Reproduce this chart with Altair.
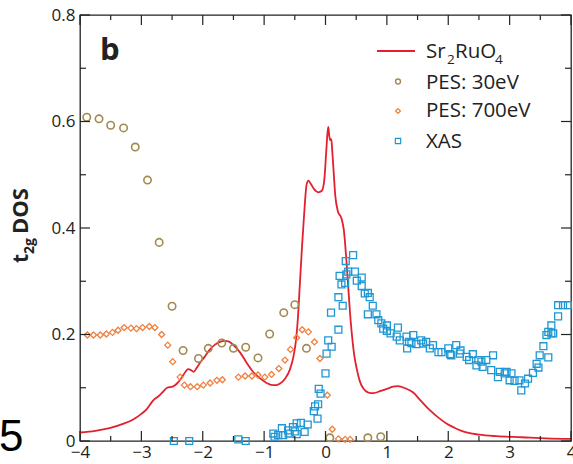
import altair as alt
import pandas as pd

# ---------------- data ----------------
dos_x = [-4.00, -3.75, -3.52, -3.30, -3.14, -3.00, -2.92, -2.81, -2.72, -2.65, -2.58, -2.49,
         -2.42, -2.35, -2.28, -2.24, -2.19, -2.15, -2.10, -2.05, -1.97, -1.89, -1.80, -1.72,
         -1.65, -1.58, -1.50, -1.39, -1.28, -1.18, -1.07, -0.96, -0.86, -0.80, -0.74, -0.66,
         -0.58, -0.52, -0.48, -0.45, -0.42, -0.38, -0.34, -0.31, -0.28, -0.24, -0.18, -0.12,
         -0.06, -0.02, 0.01, 0.03, 0.045, 0.06, 0.075, 0.095, 0.11, 0.13, 0.16, 0.20, 0.26,
         0.30, 0.34, 0.37, 0.40, 0.43, 0.47, 0.51, 0.56, 0.62, 0.70, 0.78, 0.90, 1.00, 1.10,
         1.18, 1.30, 1.43, 1.55, 1.70, 1.85, 1.97, 2.10, 2.24, 2.50, 2.79, 3.20, 3.60, 4.00]
dos_y = [0.016, 0.019, 0.024, 0.032, 0.040, 0.051, 0.059, 0.076, 0.084, 0.092, 0.100, 0.102,
         0.108, 0.118, 0.130, 0.135, 0.133, 0.130, 0.137, 0.146, 0.158, 0.171, 0.181, 0.186,
         0.188, 0.187, 0.180, 0.166, 0.146, 0.130, 0.118, 0.109, 0.105, 0.105, 0.108, 0.117,
         0.134, 0.160, 0.190, 0.230, 0.290, 0.370, 0.440, 0.480, 0.489, 0.483, 0.472, 0.467,
         0.470, 0.490, 0.540, 0.575, 0.590, 0.575, 0.565, 0.567, 0.545, 0.510, 0.460, 0.432,
         0.418, 0.395, 0.340, 0.290, 0.240, 0.200, 0.160, 0.135, 0.112, 0.098, 0.091, 0.090,
         0.094, 0.098, 0.102, 0.103, 0.099, 0.091, 0.076, 0.058, 0.043, 0.033, 0.025, 0.018,
         0.012, 0.009, 0.007, 0.005, 0.004]

pes30_x = [-3.89, -3.69, -3.50, -3.29, -3.10, -2.90, -2.71, -2.50, -2.32, -2.07, -1.91, -1.69,
           -1.50, -1.30, -1.10, -0.91, -0.68, -0.50, -0.31, 0.07, 0.69, 0.90]
pes30_y = [0.608, 0.605, 0.593, 0.588, 0.552, 0.490, 0.373, 0.253, 0.170, 0.155, 0.174, 0.184,
           0.174, 0.176, 0.156, 0.201, 0.241, 0.256, 0.174, 0.006, 0.006, 0.008]

pes700_x = [-3.88, -3.78, -3.67, -3.57, -3.47, -3.38, -3.28, -3.17, -3.08, -2.98, -2.87, -2.78,
            -2.67, -2.57, -2.49, -2.37, -2.30, -2.20, -2.09, -1.99, -1.88, -1.77, -1.68, -1.42,
            -1.31, -1.20, -1.10, -0.99, -0.88, -0.76, -0.66, -0.57, -0.47, -0.38, -0.28, -0.18,
            -0.09, 0.03, 0.11, 0.21, 0.32, 0.40]
pes700_y = [0.199, 0.199, 0.199, 0.201, 0.204, 0.208, 0.213, 0.212, 0.211, 0.213, 0.215, 0.213,
            0.200, 0.180, 0.149, 0.120, 0.105, 0.102, 0.102, 0.105, 0.109, 0.114, 0.115, 0.120,
            0.122, 0.122, 0.124, 0.120, 0.125, 0.136, 0.152, 0.172, 0.194, 0.209, 0.205, 0.186,
            0.155, 0.086, 0.022, 0.004, 0.003, 0.003]

xas_x = [-2.47, -2.22, -1.42, -1.30, -0.85, -0.83, -0.77, -0.71, -0.69, -0.61, -0.60, -0.53,
         -0.50, -0.47, -0.47, -0.40, -0.34, -0.29, -0.19, -0.17, -0.13, -0.12, -0.11, -0.08,
         0.00, 0.017, 0.044, 0.10, 0.09, 0.21, 0.21, 0.28, 0.23, 0.26, 0.32, 0.34, 0.33, 0.37,
         0.45, 0.48, 0.51, 0.59, 0.59, 0.64, 0.69, 0.72, 0.77, 0.69, 0.83, 0.86, 0.91, 0.94,
         1.00, 1.00, 1.06, 1.16, 1.18, 1.21, 1.32, 1.33, 1.36, 1.40, 1.43, 1.48, 1.56, 1.59,
         1.64, 1.70, 1.75, 1.84, 1.89, 2.00, 2.03, 2.05, 2.13, 2.20, 2.19, 2.30, 2.34, 2.40,
         2.46, 2.49, 2.54, 2.56, 2.62, 2.70, 2.73, 2.81, 2.84, 2.92, 2.95, 3.00, 3.03, 3.08,
         3.16, 3.19, 3.25, 3.30, 3.38, 3.44, 3.47, 3.49, 3.55, 3.60, 3.63, 3.63, 3.68, 3.68,
         3.71, 3.79, 3.79, 3.87, 3.95]
xas_y = [0.000, 0.000, 0.003, 0.000, 0.014, 0.008, 0.011, 0.024, 0.011, 0.020, 0.014, 0.026,
         0.018, 0.013, 0.033, 0.034, 0.017, 0.031, 0.056, 0.065, 0.042, 0.069, 0.098, 0.089,
         0.127, 0.164, 0.189, 0.177, 0.241, 0.209, 0.270, 0.254, 0.310, 0.294, 0.297, 0.313,
         0.338, 0.318, 0.349, 0.318, 0.301, 0.307, 0.291, 0.277, 0.278, 0.270, 0.254, 0.238,
         0.238, 0.227, 0.221, 0.211, 0.217, 0.207, 0.202, 0.196, 0.213, 0.189, 0.196, 0.174,
         0.186, 0.184, 0.199, 0.182, 0.189, 0.183, 0.186, 0.174, 0.180, 0.167, 0.167, 0.174,
         0.163, 0.161, 0.180, 0.170, 0.164, 0.158, 0.152, 0.163, 0.142, 0.152, 0.149, 0.139,
         0.152, 0.133, 0.161, 0.120, 0.130, 0.127, 0.130, 0.114, 0.127, 0.113, 0.114, 0.095,
         0.108, 0.117, 0.128, 0.145, 0.138, 0.161, 0.178, 0.199, 0.157, 0.205, 0.202, 0.217,
         0.202, 0.234, 0.255, 0.255, 0.255]

x_major = [-4, -3, -2, -1, 0, 1, 2, 3, 4]
x_minor = [-3.5, -2.5, -1.5, -0.5, 0.5, 1.5, 2.5, 3.5]
y_major = [0, 0.2, 0.4, 0.6, 0.8]
y_minor = [0.1, 0.3, 0.5, 0.7]

legend_labels = ["PES: 30eV", "PES: 700eV", "XAS"]

# ---------------- styling ----------------
W, H = 491, 426
FONT = "Open Sans"
INK = "#222222"
C_RED = "#e3202d"
C_30 = "#a08a50"
C_700 = "#ee8040"
C_XAS = "#1f97d4"

xs = alt.Scale(domain=[-4, 4], nice=False, zero=False)
ys = alt.Scale(domain=[0, 0.8], nice=False, zero=False)
xaxis = alt.Axis(values=x_major, format="d", ticks=False, domain=False, grid=False,
                 labelFont=FONT, labelFontSize=17, labelColor=INK, labelPadding=3,
                 labelFlush=False, title=None)
yaxis = alt.Axis(values=y_major, ticks=False, domain=False, grid=False,
                 labelExpr="datum.value == 0 ? '0' : format(datum.value, '.1f')",
                 labelFont=FONT, labelFontSize=17, labelColor=INK, labelPadding=5,
                 labelFlush=False, title=None)


def X(f):
    return alt.X(f, type="quantitative", scale=xs, axis=xaxis, title=None)


def Y(f):
    return alt.Y(f, type="quantitative", scale=ys, axis=yaxis, title=None)


dos = pd.DataFrame({"x": dos_x, "y": dos_y})
p30 = pd.DataFrame({"x": pes30_x, "y": pes30_y})
p700 = pd.DataFrame({"x": pes700_x, "y": pes700_y})
xas = pd.DataFrame({"x": xas_x, "y": xas_y})

line = alt.Chart(dos).mark_line(color=C_RED, strokeWidth=1.8, interpolate="monotone").encode(
    x=X("x"), y=Y("y"))
pts30 = alt.Chart(p30).mark_point(shape="circle", filled=False, color=C_30, size=55,
                                  strokeWidth=1.6, opacity=1).encode(x=X("x"), y=Y("y"))
pts700 = alt.Chart(p700).mark_point(shape="diamond", filled=False, color=C_700, size=36,
                                    strokeWidth=1.3, opacity=1).encode(x=X("x"), y=Y("y"))
ptsx = alt.Chart(xas).mark_point(shape="square", filled=False, color=C_XAS, size=48,
                                 strokeWidth=1.3, opacity=1).encode(x=X("x"), y=Y("y"))

# inward ticks on all four sides
xmaj = pd.DataFrame({"v": x_major})
xmin = pd.DataFrame({"v": x_minor})
ymaj = pd.DataFrame({"v": y_major})
ymin = pd.DataFrame({"v": y_minor})
tk = dict(color=INK, strokeWidth=1.2)
ticks = [
    alt.Chart(xmaj).mark_rule(**tk).encode(x=X("v"), y=alt.value(H), y2=alt.value(H - 10)),
    alt.Chart(xmin).mark_rule(**tk).encode(x=X("v"), y=alt.value(H), y2=alt.value(H - 5)),
    alt.Chart(xmaj).mark_rule(**tk).encode(x=X("v"), y=alt.value(0), y2=alt.value(10)),
    alt.Chart(xmin).mark_rule(**tk).encode(x=X("v"), y=alt.value(0), y2=alt.value(5)),
    alt.Chart(ymaj).mark_rule(**tk).encode(y=Y("v"), x=alt.value(0), x2=alt.value(10)),
    alt.Chart(ymin).mark_rule(**tk).encode(y=Y("v"), x=alt.value(0), x2=alt.value(6)),
    alt.Chart(ymaj).mark_rule(**tk).encode(y=Y("v"), x=alt.value(W), x2=alt.value(W - 10)),
    alt.Chart(ymin).mark_rule(**tk).encode(y=Y("v"), x=alt.value(W), x2=alt.value(W - 6)),
]


def txt(s, x, y, size, weight="normal", angle=0, font=FONT, color=INK, baseline="alphabetic"):
    kw = dict(align="left", baseline=baseline, font=font, fontSize=size, fontWeight=weight,
              color=color)
    if angle:
        kw["angle"] = angle
    return alt.Chart(pd.DataFrame({"t": [s]})).mark_text(**kw).encode(
        x=alt.value(x), y=alt.value(y), text="t:N")


one = pd.DataFrame({"k": [0]})

texts = [
    # panel letter
    txt("b", 20, 45, 31, weight="bold"),
    # stray panel number at the bottom-left corner
    txt("5", -81, 436, 44, font="Liberation Sans", color="#000000"),
    # y title: t_2g DOS
    txt("t", -52, 248, 21, weight="bold", angle=270),
    txt("2g", -46, 239, 14, weight="bold", angle=270),
    txt("DOS", -52, 219, 22, weight="bold", angle=270),
    # legend
    txt("Sr", 346, 43, 20.5),
    txt("2", 367, 49, 13.5),
    txt("RuO", 375, 43, 20.5),
    txt("4", 415, 49, 13.5),
    txt(legend_labels[0], 346, 73.5, 20.5),
    txt(legend_labels[1], 346, 102, 20.5),
    txt(legend_labels[2], 346, 133, 20.5),
    alt.Chart(one).mark_rule(color=C_RED, strokeWidth=1.8).encode(
        x=alt.value(297), x2=alt.value(335), y=alt.value(36)),
    alt.Chart(one).mark_point(shape="circle", filled=False, color=C_30, size=24,
                              strokeWidth=1.4, opacity=1).encode(
        x=alt.value(318), y=alt.value(66.5)),
    alt.Chart(one).mark_point(shape="diamond", filled=False, color=C_700, size=24,
                              strokeWidth=1.2, opacity=1).encode(
        x=alt.value(318), y=alt.value(96)),
    alt.Chart(one).mark_point(shape="square", filled=False, color=C_XAS, size=28,
                              strokeWidth=1.2, opacity=1).encode(
        x=alt.value(318), y=alt.value(126)),
]

chart = alt.layer(line, pts30, pts700, ptsx, *ticks, *texts).properties(
    width=W, height=H,
    padding={"left": 80, "top": 15, "right": 2, "bottom": 23},
    autosize=alt.AutoSizeParams(type="none"),
    background="white",
).configure_view(stroke=INK, strokeWidth=1.3)

chart.save("out.html", embed_options={"renderer": "svg", "actions": False})
